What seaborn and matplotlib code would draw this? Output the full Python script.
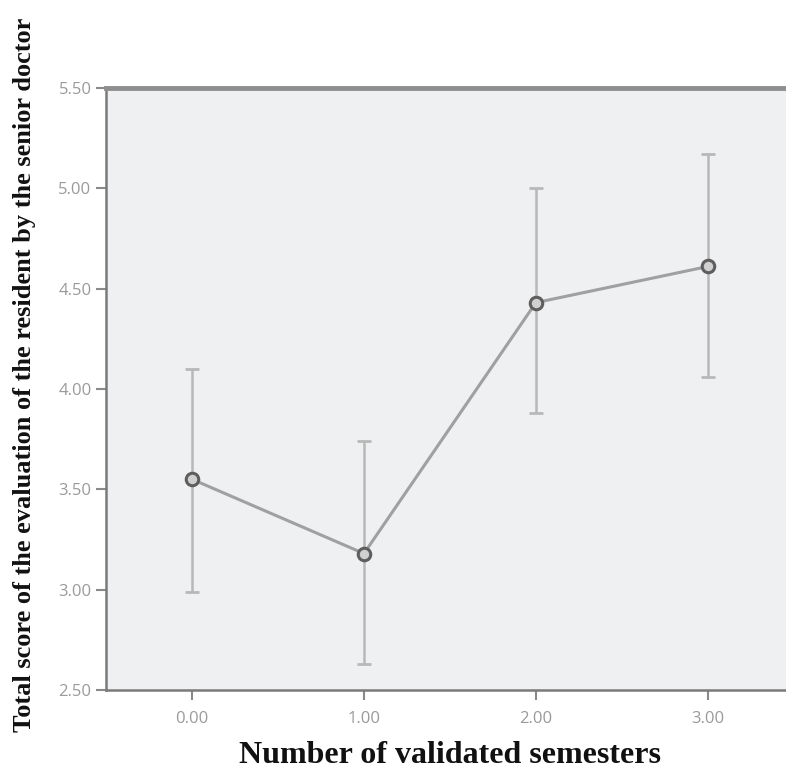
"""Mean total evaluation score by number of validated semesters (SPSS-style error bar chart)."""
import matplotlib
matplotlib.use("Agg")
import matplotlib.pyplot as plt
import pandas as pd
import seaborn as sns

semesters = [0.0, 1.0, 2.0, 3.0]
mean_score = [3.55, 3.18, 4.43, 4.61]
ci_low = [2.99, 2.63, 3.88, 4.06]
ci_high = [4.10, 3.74, 5.00, 5.17]
y_ticks = [2.5, 3.0, 3.5, 4.0, 4.5, 5.0, 5.5]

sns.set_theme(style="white")

df = pd.DataFrame({"semesters": semesters, "score": mean_score,
                   "low": ci_low, "high": ci_high})

fig = plt.figure(figsize=(7.86, 7.72), dpi=100)
ax = fig.add_axes([0.1349, 0.1062, 0.875, 0.780])
ax.set_facecolor("#eef0f2")

# error bars first so the line and markers sit on top
ax.errorbar(df["semesters"], df["score"],
            yerr=[df["score"] - df["low"], df["high"] - df["score"]],
            fmt="none", ecolor="#b8b8b8", elinewidth=1.8, capsize=5, capthick=2.0, zorder=2)
sns.lineplot(data=df, x="semesters", y="score", ax=ax, color="#a0a0a0", linewidth=2.2,
             marker="o", markersize=9, markerfacecolor="#d0d0d0",
             markeredgecolor="#5e5e5e", markeredgewidth=2.2, zorder=3)

ax.set_xlim(-0.5, 3.5)
ax.set_ylim(2.5, 5.5)
ax.set_xticks(semesters)
ax.set_xticklabels([f"{v:.2f}" for v in semesters])
ax.set_yticks(y_ticks)
ax.set_yticklabels([f"{v:.2f}" for v in y_ticks])
ax.tick_params(axis="both", direction="out", length=7, width=1.5, color="#8a8a8a",
               labelcolor="#9a9a9a", labelsize=12, left=True, bottom=True)
ax.tick_params(axis="x", pad=8)
for lab in ax.get_xticklabels() + ax.get_yticklabels():
    lab.set_family("Open Sans")

for side in ["left", "bottom"]:
    ax.spines[side].set_color("#7a7a7a")
    ax.spines[side].set_linewidth(1.8)
ax.spines["top"].set_color("#8f8f8f")
ax.spines["top"].set_linewidth(3.5)
ax.spines["right"].set_visible(False)

ax.set_xlabel("Number of validated semesters", family="Liberation Serif",
              fontweight="bold", fontsize=23, color="#111111", labelpad=10)
ax.set_ylabel("Total score of the evaluation of the resident by the senior doctor",
              family="Liberation Serif", fontweight="bold", fontsize=19,
              color="#111111")
ax.yaxis.set_label_coords(-0.102, 0.523)

fig.savefig("out.png", dpi=100)
plt.close(fig)
